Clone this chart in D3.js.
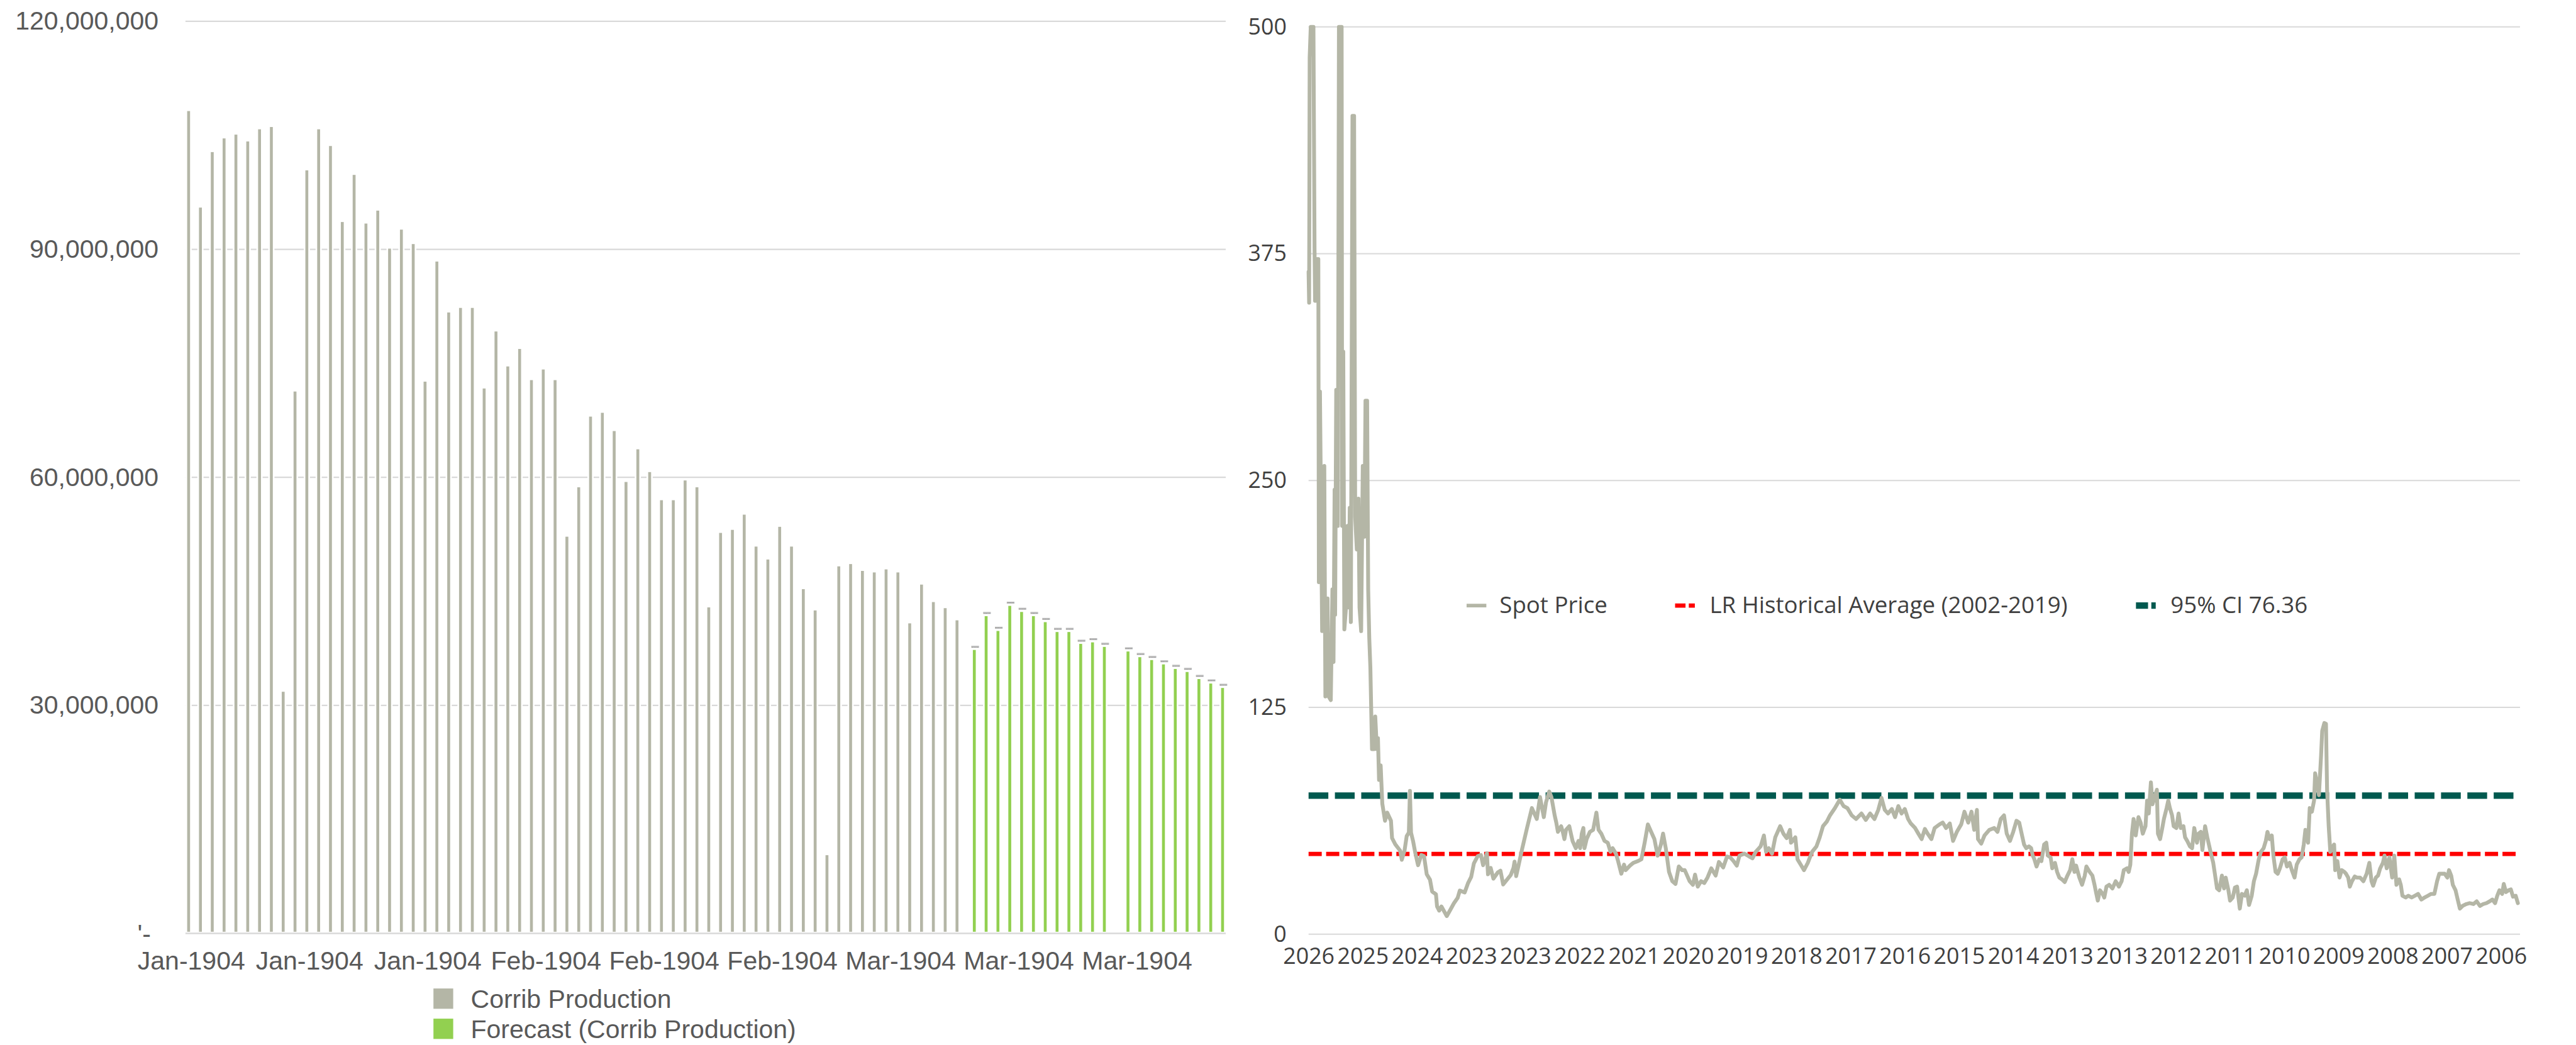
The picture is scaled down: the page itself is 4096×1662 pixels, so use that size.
<!DOCTYPE html>
<html><head><meta charset="utf-8">
<script src="https://cdn.jsdelivr.net/npm/d3@7"></script>
<style>html,body{margin:0;padding:0;background:#fff;overflow:hidden}</style>
</head><body>
<svg id="chart" width="4096" height="1662" viewBox="0 0 4695 1905"></svg>
<script>
// ---------------- DATA ----------------
// Left chart: monthly Corrib production (millions), 88 categories
const prodTickLabels = ["Jan-1904","Jan-1904","Jan-1904","Feb-1904","Feb-1904","Feb-1904","Mar-1904","Mar-1904","Mar-1904"];
const prodTickEvery = 10;
const prodYTicks = [0, 30, 60, 90, 120];
const corribProduction = [
  108.3, 95.6, 102.9, 104.7, 105.2, 104.3, 105.9, 106.2, 31.9, 71.4,
  100.5, 105.9, 103.7, 93.7, 99.9, 93.5, 95.2, 90.2, 92.7, 90.8,
  72.7, 88.5, 81.8, 82.4, 82.4, 71.8, 79.3, 74.7, 77.0, 72.9,
  74.3, 72.9, 52.3, 58.8, 68.1, 68.6, 66.2, 59.5, 63.8, 60.8,
  57.1, 57.1, 59.7, 58.8, 43.0, 52.8, 53.2, 55.2, 51.0, 49.3,
  53.6, 51.0, 45.4, 42.6, 10.4, 48.4, 48.7, 47.8, 47.6, 48.0,
  47.6, 40.9, 46.0, 43.7, 42.9, 41.3,
  null, null, null, null, null, null, null, null, null, null, null,
  null, null, null, null, null, null, null, null, null, null, null
];
const forecastProduction = [
  null, null, null, null, null, null, null, null, null, null,
  null, null, null, null, null, null, null, null, null, null,
  null, null, null, null, null, null, null, null, null, null,
  null, null, null, null, null, null, null, null, null, null,
  null, null, null, null, null, null, null, null, null, null,
  null, null, null, null, null, null, null, null, null, null,
  null, null, null, null, null, null,
  37.4, 41.85, 39.9, 43.2, 42.4, 41.85, 41.06, 39.76, 39.76, 38.2, 38.4, 37.8,
  null, 37.2, 36.45, 36.07, 35.5, 34.9, 34.5, 33.57, 32.98, 32.4
];
const prodSeriesNames = ["Corrib Production", "Forecast (Corrib Production)"];

// Right chart: spot price, [observation number, value]; one tick label every 100 obs
const spotTickLabels = ["2026","2025","2024","2023","2023","2022","2021","2020","2019","2018","2017","2016","2015","2014","2013","2013","2012","2011","2010","2009","2008","2007","2006"];
const spotTickEvery = 100;
const spotLastObs = 2235;
const spotYTicks = [0, 125, 250, 375, 500];
const lrHistoricalAverage = 44.2;
const ci95 = 76.36;
const spotSeries = [
[0,365],[1,348],[2,483],[4,500],[9,500],[11,378],[12,349],[15,372],[18,372],[19,194],[21,299],[25,167],[29,258],[31,131],[35,185],[37,131],[41,129],[44,190],[46,150],[48,245],[49,176],[51,300],[54,225],[56,500],[61,500],[62,225],[64,321],[66,168],[69,180],[72,225],[74,180],[76,235],[78,172],[81,451],[84,451],[86,230],[89,212],[92,240],[94,180],[97,167],[100,258],[103,219],[105,294],[108,294],[110,190],[112,163],[114,147],[117,102],[121,102],[123,120],[126,102],[128,108],[130,85],[133,93],[136,72],[141,62.5],[145,67],[152,62.5],[154,53],[160,49.5],[169,46],[172,41],[177,46],[181,54],[185,56],[187,79],[189,56],[193,51],[197,44.6],[202,38],[208,43.6],[213,43],[218,33],[224,30],[228,23.5],[235,22],[237,15.3],[241,13],[245,15.3],[255,10],[262,13.7],[268,17],[275,20],[279,24],[288,23],[294,28],[300,31.6],[305,39],[312,43],[318,43.6],[322,38],[329,44.6],[331,33],[336,36.5],[341,30.6],[349,34],[354,35],[359,27.4],[366,30],[373,32.6],[378,36.5],[380,40],[383,32],[386,36],
[394,47],[403,58.5],[412,69.5],[421,63.5],[427,75.6],[434,64.5],[438,72.6],[444,78.6],[448,75.6],[454,65.5],[457,61.5],[460,56.4],[466,59.5],[469,56.4],[472,52.4],[475,57.5],[481,59.5],[484,55.4],[487,51.4],[493,47.4],[498,51.4],[501,47.4],[504,55.4],[507,58.5],[509,47.4],[513,52.4],[519,56.4],[525,57.5],[531,67],[535,57.5],[540,55.4],[546,51.4],[552,50.4],[557,45.4],[561,47.4],[567,44.4],[571,40.3],[577,33.3],[582,38.3],[585,35.3],[593,37.8],[599,39.3],[608,40.3],[614,41.3],[620,50.4],[626,60.5],[632,56.4],[638,52.4],[644,43.3],[650,49.4],[654,55.4],[659,47.4],[665,34.3],[671,29.2],[677,27.7],[683,37.3],[689,35.3],[694,35.3],[703,29.2],[709,27.2],[713,32.8],[718,26.2],[724,29.2],[730,28.2],[736,31.2],[743,36.3],[751,32.3],[757,39.8],[765,36.8],[772,42.8],[778,42.3],[784,40.3],[790,37.8],[795,43.3],[804,44.4],[813,42.8],[819,41.8],[825,45.4],[834,48.4],[840,54.4],[844,45.4],[849,47.4],[855,44.4],[861,53.4],[870,59.5],[876,55.4],[882,52.9],[888,57.5],[890,50.4],[898,53.4],[902,41.3],[908,38.3],[914,35.3],[921,39.3],[929,45.4],[937,48.4],[943,53.4],[949,59.5],[956,62],[962,65.5],[971,69.5],[980,74.1],[987,70.6],[994,69.5],[1002,65.5],[1010,63.5],[1020,66.5],[1028,63],[1036,66.5],[1044,63.5],[1051,68.5],[1057,75.1],[1063,68.5],[1069,66.5],[1076,69],[1082,64.5],[1088,70.6],[1094,66.5],[1100,69],[1106,63.5],[1111,61],[1119,58.5],[1125,55.4],[1131,52.4],[1137,58],[1142,55.4],[1149,52.4],[1155,58.5],[1164,60.5],[1170,61.5],[1176,58.5],[1183,61],[1189,51.4],[1196,56.4],[1204,60.5],[1210,67.5],[1217,61.5],[1223,67.5],[1228,57.5],[1233,68.5],[1235,52.4],[1241,49.9],[1247,54.4],[1256,57.5],[1265,58.5],[1271,56.4],[1277,63.5],[1283,65.5],[1288,55.4],[1294,51.4],[1300,56.4],[1306,62.5],
[1311,61.5],[1317,53.4],[1320,49.4],[1324,47.4],[1329,48.4],[1333,47.4],[1336,43.3],[1339,41.3],[1343,37.3],[1348,41.3],[1352,40.3],[1357,49.4],[1361,50.4],[1364,43.3],[1369,42.3],[1372,36.3],[1377,39.3],[1381,34.3],[1385,31.2],[1390,30.2],[1395,28.7],[1400,32.3],[1405,35.3],[1409,41.3],[1413,34.3],[1416,37.8],[1422,31.2],[1427,27.2],[1432,32.3],[1435,37.3],[1441,34.3],[1446,32.3],[1450,27.2],[1453,22.7],[1456,18.5],[1460,24.2],[1465,22.2],[1468,20.2],[1472,26.2],[1477,27.2],[1483,25.2],[1489,29.2],[1495,26.2],[1500,29.2],[1504,35.3],[1510,36.3],[1513,34.3],[1516,38.3],[1519,55.4],[1522,63.5],[1526,54.4],[1531,64.5],[1535,61.5],[1539,55.4],[1544,59.5],[1547,73.6],[1550,66.5],[1554,83.7],[1557,71.6],[1560,74.6],[1565,79.6],[1567,55.4],[1571,52.4],[1575,58.5],[1578,63.5],[1583,69.5],[1586,73.6],[1589,69.5],[1593,65.5],[1596,59.5],[1601,58.5],[1605,66.5],[1609,58.5],[1614,59.5],[1617,53.4],[1621,51.4],[1626,48.4],[1630,47.4],[1634,58.5],[1639,50.4],[1642,55.4],[1646,56.4],[1649,46.4],[1654,59.5],[1658,53.4],[1664,45.4],[1669,39.3],[1672,33.3],[1676,25.2],[1680,24.2],[1685,32.3],[1689,25.2],[1692,31.2],[1697,24.2],[1700,18.5],[1705,20.2],[1709,25.7],[1713,26.2],[1718,14.1],[1722,22.2],[1727,21.2],[1731,24.2],[1735,16.1],[1740,21.2],[1744,29.2],[1748,33.3],[1753,41.3],[1757,45.4],[1762,47.4],[1766,51.4],[1769,56.4],[1773,52.4],[1777,54.4],[1780,43.3],[1784,34.3],[1788,33.3],[1792,36.3],[1797,41.3],[1801,42.3],[1805,37.3],[1810,39.3],[1814,35.3],[1819,31.2],[1823,38.3],[1828,41.3],[1832,42.3],[1836,49.4],[1839,57.5],[1844,50.4],[1847,69.5],[1851,67.5],[1855,73.6],[1857,88.7],[1861,82.7],[1864,76.6],[1868,98.8],[1870,112],[1874,116.4],[1877,115.9],[1879,79.6],[1882,59.5],[1885,45.4],[1888,47.4],[1892,49.4],[1894,35.3],[1898,40.3],[1902,31.2],[1906,35.3],[1911,34.3],[1914,33.3],[1918,31.2],[1921,26.2],[1925,29.2],[1930,31.8],[1934,31.2],[1940,31.2],[1946,29.2],[1952,33.3],[1957,39.3],[1961,29.2],[1964,26.7],[1969,31.2],[1973,32.3],[1977,36.3],[1982,39.3],[1985,43.3],[1989,36.3],[1994,42.3],[1999,31.2],[2003,43.3],[2007,27.2],[2012,30.2],[2015,27.2],[2018,21.2],[2024,20.2],[2029,21.2],[2035,20.2],[2041,21.2],[2047,22.2],[2053,19.1],[2059,20.2],[2065,21.2],[2071,22.2],[2077,22.2],[2082,29.2],[2086,33.3],[2092,33.3],[2096,33.3],[2101,31.2],[2104,35.3],[2108,32.3],[2111,27.2],[2116,24.2],[2120,19.1],[2124,14.1],[2129,15.6],[2136,16.6],[2142,17.1],[2149,16.6],[2155,18.1],[2161,15.6],[2167,16.6],[2173,17.1],[2179,18.1],[2184,19.1],[2189,17.1],[2193,21.2],[2197,24.2],[2202,22.2],[2205,27.7],[2209,23.2],[2214,24.2],[2218,24.7],[2222,20.7],[2227,21.2],[2231,17.1]
];
const spotLegend = ["Spot Price", "LR Historical Average (2002-2019)", "95% CI 76.36"];

// ---------------- STYLE ----------------
const C_GRAY = "#b4b6a6", C_GREEN = "#92d050", C_RED = "#ff0000", C_DKGREEN = "#00594f", C_GRID = "#d9d9d9";
const FONT_L = "'Liberation Sans', Arial, sans-serif";
const FONT_R = "'Open Sans', 'DejaVu Sans', sans-serif";

const svg = d3.select("#chart");
svg.append("rect").attr("width", 4695).attr("height", 1905).attr("fill", "#fff");

// ================= LEFT CHART =================
const L = {left: 338, right: 2234, top: 38.8, bottom: 1701.6};
const idx = d3.range(corribProduction.length);
const xBand = d3.scaleBand().domain(idx).range([L.left, L.right]).paddingInner(0).paddingOuter(0);
const xSub = d3.scaleBand().domain(prodSeriesNames).range([-10, 10]);
const yL = d3.scaleLinear().domain([0, 120]).range([L.bottom, L.top]);
const gL = svg.append("g");

// gridlines
gL.append("g").selectAll("line").data(prodYTicks.filter(d => d > 0)).join("line")
  .attr("x1", L.left).attr("x2", L.right)
  .attr("y1", d => yL(d)).attr("y2", d => yL(d))
  .attr("stroke", C_GRID).attr("stroke-width", 2.5);

// bars
const barW = 8.3;
const seriesData = [
  {name: prodSeriesNames[0], values: corribProduction, color: C_GRAY},
  {name: prodSeriesNames[1], values: forecastProduction, color: C_GREEN}
];
seriesData.forEach(s => {
  const pts = idx.filter(i => s.values[i] != null).map(i => ({i, v: s.values[i]}));
  gL.append("g").selectAll("rect").data(pts).join("rect")
    .attr("x", d => xBand(d.i) + xBand.bandwidth() / 2 + xSub(s.name) + (xSub.bandwidth() - barW) / 2)
    .attr("width", barW)
    .attr("y", d => yL(d.v))
    .attr("height", d => yL(0) - yL(d.v) - 1.5)
    .attr("fill", s.color).attr("stroke", "#fff").attr("stroke-width", 3);
});
// small data labels on forecast bars
const fpts = idx.filter(i => forecastProduction[i] != null).map(i => ({i, v: forecastProduction[i]}));
const lab = gL.append("g").selectAll("g").data(fpts).join("g")
  .attr("transform", d => `translate(${xBand(d.i) + xBand.bandwidth() / 2 + xSub(prodSeriesNames[1]) + xSub.bandwidth() / 2 + 1.5},${yL(d.v) - 2.5})`);
lab.append("rect").attr("x", -7).attr("y", -3.7).attr("width", 14).attr("height", 3.7).attr("fill", "#bfbfbf");
lab.append("text").attr("y", -0.8).attr("text-anchor", "middle").attr("font-size", 2.6)
  .attr("font-family", FONT_L).attr("fill", "#595959")
  .text(d => d3.format(",.0f")(d.v * 1e6));

// baseline
gL.append("line").attr("x1", L.left).attr("x2", L.right).attr("y1", yL(0)).attr("y2", yL(0))
  .attr("stroke", C_GRID).attr("stroke-width", 3);

// y axis
const yAxL = gL.append("g").attr("transform", `translate(${L.left},0)`)
  .call(d3.axisLeft(yL).tickValues(prodYTicks).tickSize(0).tickPadding(49)
    .tickFormat(d => d === 0 ? "'-" : d3.format(",")(d * 1e6)));
yAxL.select(".domain").remove();
yAxL.selectAll("text").attr("font-family", FONT_L).attr("font-size", 47).attr("fill", "#595959");
yAxL.selectAll(".tick").filter(d => d === 0).select("text").attr("x", -63).attr("dy", "0.35em");

// x axis
const xAxL = gL.append("g").attr("transform", `translate(0,${L.bottom})`)
  .call(d3.axisBottom(xBand).tickValues(idx.filter(i => i % prodTickEvery === 0))
    .tickSize(0).tickPadding(32).tickFormat(i => prodTickLabels[i / prodTickEvery]));
xAxL.select(".domain").remove();
xAxL.selectAll("text").attr("font-family", FONT_L).attr("font-size", 47).attr("fill", "#595959");

// legend
const legL = gL.append("g").selectAll("g").data(seriesData).join("g")
  .attr("transform", (d, i) => `translate(790,${1802 + i * 55})`);
legL.append("rect").attr("width", 36).attr("height", 37).attr("fill", d => d.color);
legL.append("text").attr("x", 68).attr("y", 35).attr("font-family", FONT_L).attr("font-size", 47)
  .attr("fill", "#595959").text(d => d.name);

// ================= RIGHT CHART =================
const R = {left: 2385, right: 4593, top: 49, bottom: 1703};
const xR = d3.scaleLinear().domain([0, spotLastObs]).range([R.left, R.right]);
const yR = d3.scaleLinear().domain([0, 500]).range([R.bottom, R.top]);
const gR = svg.append("g");

gR.append("g").selectAll("line").data(spotYTicks).join("line")
  .attr("x1", R.left).attr("x2", R.right)
  .attr("y1", d => yR(d)).attr("y2", d => yR(d))
  .attr("stroke", C_GRID).attr("stroke-width", 2.5);

const yAxR = gR.append("g").attr("transform", `translate(${R.left},0)`)
  .call(d3.axisLeft(yR).tickValues(spotYTicks).tickSize(0).tickPadding(40));
yAxR.select(".domain").remove();
yAxR.selectAll("text").attr("font-family", FONT_R).attr("font-size", 41).attr("fill", "#404040");

const tickObs = d3.range(0, spotTickLabels.length).map(k => k * spotTickEvery);
const xAxR = gR.append("g").attr("transform", `translate(0,${R.bottom})`)
  .call(d3.axisBottom(xR).tickValues(tickObs).tickSize(0).tickPadding(25)
    .tickFormat((d, i) => spotTickLabels[i]));
xAxR.select(".domain").remove();
xAxR.selectAll("text").attr("font-family", FONT_R).attr("font-size", 41).attr("fill", "#404040");

// reference lines
gR.append("line").attr("x1", xR(0)).attr("x2", xR(spotLastObs))
  .attr("y1", yR(lrHistoricalAverage)).attr("y2", yR(lrHistoricalAverage))
  .attr("stroke", C_RED).attr("stroke-width", 7.7).attr("stroke-dasharray", "24 8");
gR.append("line").attr("x1", xR(0)).attr("x2", xR(spotLastObs))
  .attr("y1", yR(ci95)).attr("y2", yR(ci95))
  .attr("stroke", C_DKGREEN).attr("stroke-width", 11.7).attr("stroke-dasharray", "36 12");

// spot line
gR.append("path").datum(spotSeries)
  .attr("d", d3.line().x(d => xR(d[0])).y(d => yR(d[1])))
  .attr("fill", "none").attr("stroke", C_GRAY).attr("stroke-width", 7)
  .attr("stroke-linejoin", "round").attr("stroke-linecap", "round");

// legend
const legItems = [
  {label: spotLegend[0], color: C_GRAY, w: 6.7, dash: null, x: 2673, tx: 2733},
  {label: spotLegend[1], color: C_RED, w: 7.7, dash: "19 6 11 100", x: 3053, tx: 3116},
  {label: spotLegend[2], color: C_DKGREEN, w: 11.7, dash: "22 6 8 100", x: 3893, tx: 3956}
];
const legR = gR.append("g").selectAll("g").data(legItems).join("g");
legR.append("line").attr("x1", d => d.x).attr("x2", d => d.x + 36).attr("y1", 1104).attr("y2", 1104)
  .attr("stroke", d => d.color).attr("stroke-width", d => d.w)
  .attr("stroke-dasharray", d => d.dash);
legR.append("text").attr("x", d => d.tx).attr("y", 1118).attr("font-family", FONT_R).attr("font-size", 42)
  .attr("fill", "#404040").text(d => d.label);
</script>
</body></html>
